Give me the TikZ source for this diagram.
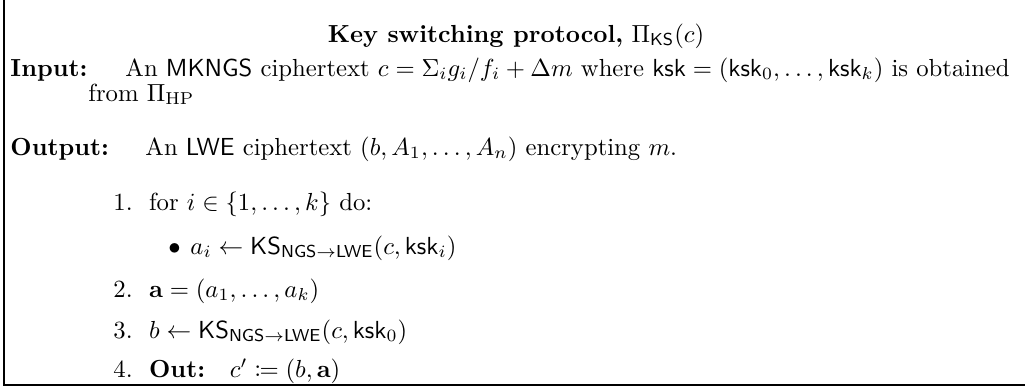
\documentclass[tikz,border=0pt]{standalone}
\usepackage{amsmath}
\usepackage{mathtools}
\usetikzlibrary{
  positioning,
}
\newcommand{\kskey}{\mathsf{ksk}}
\newcommand{\ksngs}{\mathsf{KS}_{\mathsf{NGS}\to\mathsf{LWE}}}

\begin{document}
\begin{tikzpicture}[
  x=0.405pt, y=-0.405pt,
  line/.style={anchor=base west, inner sep=0pt},
]
\useasboundingbox (0,0) rectangle (1025,390);
\draw[thick] (4,0) -- (4,385) -- (1025,385);
\node[anchor=base, inner sep=0pt] (title) at (516,42) {\textbf{Key switching protocol,} $\Pi_{\mathsf{KS}}(c)$};
\node[line] (inlabel) at (10,76) {\textbf{Input:}};
\node[line] (input) at (125,76) {An $\mathsf{MKNGS}$ ciphertext $c=\Sigma_i g_i/f_i+\Delta m$ where $\kskey=(\kskey_0,\dots,\kskey_k)$ is obtained};
\node[line] (inputb) at (88,101) {from $\Pi_{\mathrm{HP}}$};
\node[line] (outlabel) at (10,155) {\textbf{Output:}};
\node[line] (output) at (145,155) {An $\mathsf{LWE}$ ciphertext $(b,A_1,\dots,A_n)$ encrypting $m$.};
\node[line] (step1) at (113,210) {1.\ \ for $i\in\{1,\dots,k\}$ do:};
\node[line] (bullet) at (168,254) {$\bullet$};
\node[line] (step1a) at (190,254) {$a_i\gets\ksngs(c,\kskey_i)$};
\node[line] (step2) at (113,297) {2.\ \ $\mathbf{a}=(a_1,\dots,a_k)$};
\node[line] (step3) at (113,338) {3.\ \ $b\gets\ksngs(c,\kskey_0)$};
\node[line] (step4) at (113,377) {4.\ \ \textbf{Out:}\quad $c'\coloneqq(b,\mathbf{a})$};
\end{tikzpicture}
\end{document}
